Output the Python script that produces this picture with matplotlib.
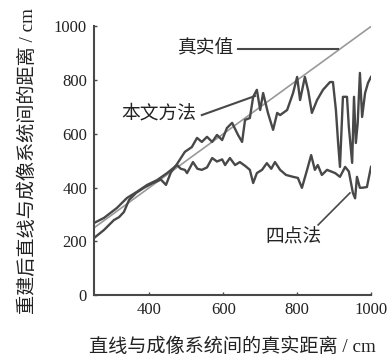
import matplotlib
matplotlib.use('Agg')
import matplotlib.pyplot as plt

# distance to the imaging system (cm) and the reconstructed distance (cm)
true_x = [250, 1000]
true_y = [250, 1000]

ours_x = [250, 277, 304, 318, 331, 345, 364, 385, 407, 431, 445, 458, 475,
          496, 515, 529, 542, 556, 570, 583, 597, 610, 624, 640, 651, 659,
          672, 681, 691, 700, 708, 721, 735, 746, 754, 773, 789, 800, 808,
          821, 830, 840, 854, 870, 889, 897, 905, 911, 916, 924, 935, 940,
          949, 954, 959, 964, 970, 976, 984, 992, 1000]
ours_y = [212, 242, 279, 290, 309, 354, 380, 399, 415, 430, 410, 456, 488,
          533, 551, 585, 570, 589, 570, 596, 577, 622, 641, 596, 570, 652,
          659, 738, 764, 689, 752, 678, 615, 678, 670, 689, 752, 812, 726,
          812, 760, 678, 726, 764, 793, 793, 689, 566, 477, 738, 738, 626,
          492, 738, 566, 640, 827, 663, 752, 790, 812]

four_x = [250, 277, 312, 339, 366, 394, 421, 448, 475, 485, 496, 502, 518,
          530, 542, 556, 570, 583, 597, 605, 618, 632, 645, 660, 672, 681,
          691, 705, 718, 730, 740, 754, 770, 789, 802, 813, 827, 838, 848,
          856, 867, 881, 903, 916, 930, 940, 951, 957, 962, 970, 980, 989,
          1000]
four_y = [268, 287, 324, 361, 384, 410, 428, 454, 484, 470, 466, 454, 495,
          470, 466, 475, 510, 497, 505, 484, 510, 484, 495, 480, 466, 417,
          454, 466, 491, 470, 495, 466, 447, 440, 436, 399, 466, 521, 466,
          484, 447, 466, 454, 440, 477, 460, 380, 360, 440, 399, 400, 402,
          477]

xticks = [400, 600, 800, 1000]
yticks = [0, 200, 400, 600, 800, 1000]

cjk = ['Liberation Serif', 'Noto Sans CJK SC']
dark = '#484848'

fig = plt.figure(figsize=(3.89, 3.59), dpi=100)
ax = fig.add_axes([0.2416, 0.1783, 0.7121, 0.748])

ax.plot(true_x, true_y, color='#999999', lw=1.2)
ax.plot(ours_x, ours_y, color=dark, lw=1.7)
ax.plot(four_x, four_y, color=dark, lw=1.7)

ax.set_xlim(250, 1000)
ax.set_ylim(0, 1000)
ax.set_xticks(xticks)
ax.set_yticks(yticks)
for sp in ('top', 'right'):
    ax.spines[sp].set_visible(False)
for sp in ('left', 'bottom'):
    ax.spines[sp].set_color(dark)
    ax.spines[sp].set_linewidth(1.5)
ax.tick_params(direction='in', length=2.5, width=1, color=dark,
               labelcolor='#222222', labelsize=12, pad=5)
for lab in ax.get_xticklabels() + ax.get_yticklabels():
    lab.set_family('Liberation Serif')

# labels with leader lines
ax.text(553, 916, '真实值', family=cjk, fontsize=13.5, color='#222222',
        ha='center', va='center')
ax.plot([640, 911], [916, 916], color=dark, lw=1.5)
ax.text(426, 674, '本文方法', family=cjk, fontsize=13.5, color='#222222',
        ha='center', va='center')
ax.plot([542, 686], [670, 741], color=dark, lw=1.5)
ax.text(789, 212, '四点法', family=cjk, fontsize=13.5, color='#222222',
        ha='center', va='center')
ax.plot([857, 943], [261, 380], color=dark, lw=1.2)

ax.set_xlabel('直线与成像系统间的真实距离 / cm', family=cjk, fontsize=13.8,
              color='#222222', labelpad=14)
ax.set_ylabel('重建后直线与成像系统间的距离 / cm', family=cjk, fontsize=13.8,
              color='#222222', labelpad=12)

fig.savefig('out.png', dpi=100)
